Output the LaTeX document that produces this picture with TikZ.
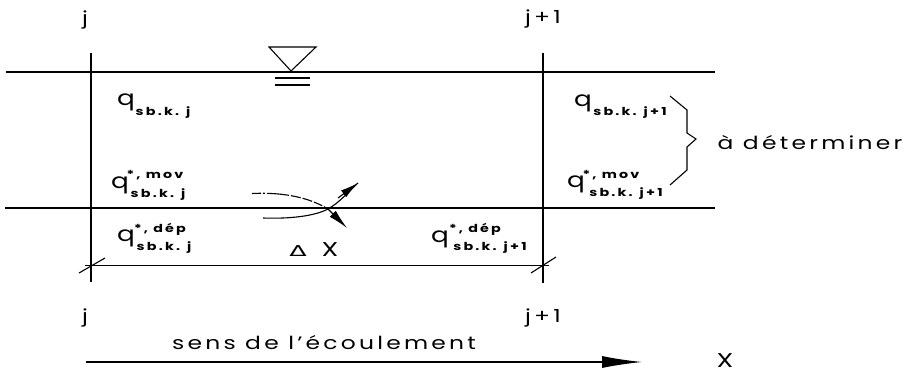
\documentclass[tikz,border=0pt]{standalone}
\usepackage{fontspec}
\setmainfont{Poppins}[LetterSpace=18,FakeStretch=1.3]
\newfontfamily\smallwide{Poppins}[LetterSpace=20,FakeStretch=1.3]
\newfontfamily\plainq{Poppins}[FakeStretch=1.25]
\newfontfamily\plainx{Poppins}[FakeStretch=1.35]
\newfontfamily\deltafont{DejaVu Sans}[FakeStretch=1.7]
\usetikzlibrary{arrows.meta}
\tikzset{
  x=1pt,y=-1pt,
  lbl/.style={inner sep=0pt,outer sep=0pt,font=\fontsize{18}{18}\selectfont},
  qq/.style={inner sep=0pt,outer sep=0pt,font=\fontsize{21}{21}\plainq},
  sm/.style={inner sep=0pt,outer sep=0pt,font=\fontsize{11}{11}\smallwide\bfseries},
  bigx/.style={inner sep=0pt,outer sep=0pt,font=\fontsize{20}{20}\plainx},
  ln/.style={line width=1.1pt,black},
  bedline/.style={line width=1.5pt,black},
  thin line/.style={line width=0.8pt,black},
}
\begin{document}
\begin{tikzpicture}
\useasboundingbox (0,0) rectangle (905,369);
% frame lines
\coordinate (wl) at (6,72); \coordinate (wr) at (715,72);
\coordinate (bl) at (5,208); \coordinate (br) at (715,208);
\coordinate (vlt) at (91,53); \coordinate (vlb) at (91,282);
\coordinate (vrt) at (543,53); \coordinate (vrb) at (543,283);
\coordinate (dl) at (85,265); \coordinate (dr) at (549,265);
\draw[ln] (wl) -- (wr);
\draw[bedline] (bl) -- (br);
\draw[ln] (vlt) -- (vlb);
\draw[ln] (vrt) -- (vrb);
\draw[thin line] (dl) -- (dr);
\draw[ln] (79,273) -- (105,258);
\draw[ln] (531,273) -- (556,257);
% water level symbol
\draw[ln,line join=miter] (269,47) -- (316,47) -- (291,71) -- cycle;
\draw[ln] (275,78) -- (310,78);
\draw[ln] (275,85) -- (310,85);
% flow curves
\coordinate (cross) at (328,209);
\draw[ln,dash pattern=on 9pt off 2pt on 2pt off 2pt on 22pt off 2pt on 10pt off 2pt on 10pt off 2pt] (252,193.5) .. controls (285,192) and (310,198) .. (cross);
\draw[ln] (263,218) .. controls (290,219) and (315,216) .. (cross) .. controls (340,202) and (345,195) .. (358,183);
\draw[-{Latex[length=20pt,width=8.5pt]},ln] (cross) -- (347,228);
\draw[-{Latex[length=18pt,width=8.5pt]},ln] (338,198) -- (358,183);
% brace
\draw[ln] (670,96) -- (687,110) -- (687,133) -- (696,139) -- (687,147) -- (687,170) -- (670,185);
% column labels
\node[lbl] (ja) at (85,20) {j};
\node[lbl] (jb) at (543,19) {j+1};
\node[lbl] (jc) at (85,318) {j};
\node[lbl] (jd) at (543,318) {j+1};
% q labels
\node[qq] (q1) at (126,102) {q}; \node[sm] (q1s) at (163,113) {sb.k. j};
\node[qq] (q2) at (120,185) {q}; \node[sm] (q2u) at (155,175) {*, mov}; \node[sm] (q2s) at (158,195) {sb.k. j};
\node[qq] (q3) at (126,238) {q}; \node[sm] (q3u) at (160,229) {*, dép}; \node[sm] (q3s) at (164,248) {sb.k. j};
\node[qq] (q4) at (583,103) {q}; \node[sm] (q4s) at (630,113) {sb.k. j+1};
\node[qq] (q5) at (576,184) {q}; \node[sm] (q5u) at (611,175) {*, mov}; \node[sm] (q5s) at (626,194) {sb.k. j+1};
\node[qq] (q6) at (440,239) {q}; \node[sm] (q6u) at (475,229) {*, dép}; \node[sm] (q6s) at (490,248) {sb.k. j+1};
\node[lbl] (det) at (810,143) {à déterminer};
\node[inner sep=0pt,font=\fontsize{15}{15}\deltafont] (dx) at (298,251) {Δ};
\node[bigx] (xa) at (330,250) {X};
% bottom
\node[lbl] (sens) at (324,343) {sens de l'écoulement};
\coordinate (al) at (86,362); \coordinate (ar) at (642,362);
\draw[ln,-{Latex[length=40pt,width=12pt]}] (al) -- (ar);
\node[bigx,text height=11pt,text depth=0pt,anchor=base] (xb) at (725,367) {X};
\end{tikzpicture}
\end{document}
